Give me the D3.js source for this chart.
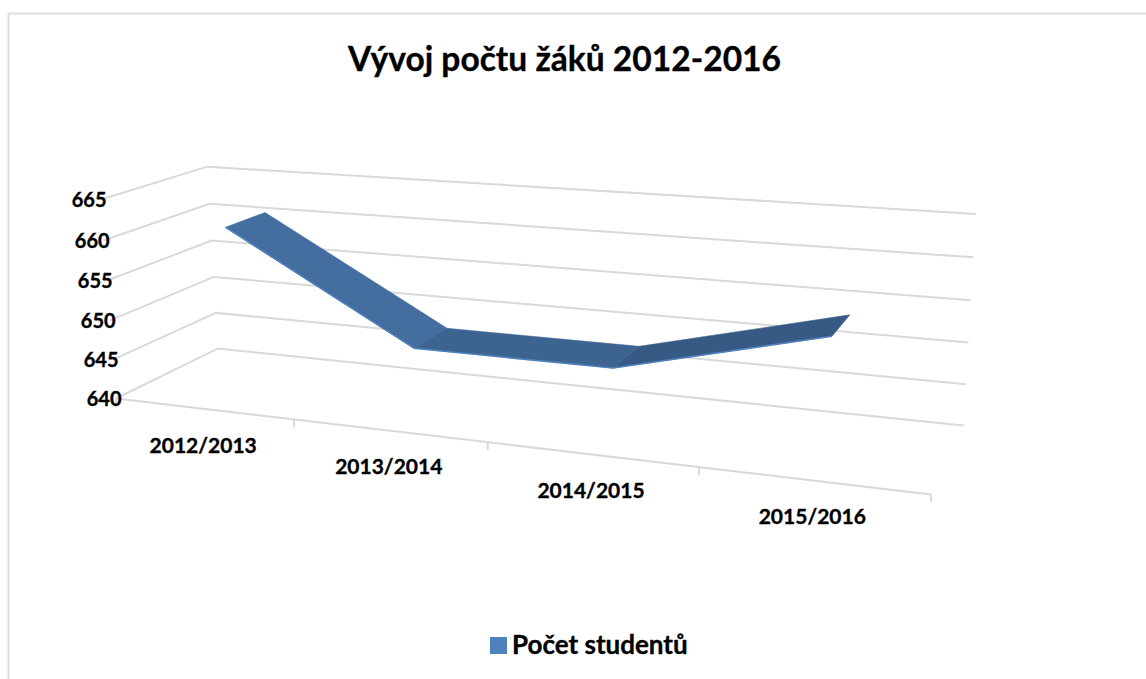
<!DOCTYPE html>
<html><head><meta charset="utf-8">
<script src="https://cdnjs.cloudflare.com/ajax/libs/d3/7.8.5/d3.min.js"></script>
<style>html,body{margin:0;padding:0;background:#fff}svg{display:block}text{font-family:Lato,"Open Sans",sans-serif;font-weight:700;fill:#000;stroke:#000;stroke-width:.35px}</style>
</head><body><svg id="c" width="1146" height="679"></svg>
<script>
const titleText = "Vývoj počtu žáků 2012-2016";
const seriesName = "Počet studentů";
const categories = ["2012/2013","2013/2014","2014/2015","2015/2016"];
const values = [661,648,648,654];
const yTicks = [640,645,650,655,660,665];
const segmentColors = ["#436e9f","#3d6490","#375a85"];

const svg = d3.select("#c");
const xScale = d3.scaleLinear().domain([0,categories.length]).range([0,1]);
const yScale = d3.scaleLinear().domain([640,665]).range([0,1]);
const depthFront = 0.3, depthBack = 0.7;

// projective map of the Excel-style 3D box (X along categories, Y up, Z into the page)
const O=[116,398.5], nX=[664.5,16], nY=[-18,-205], nZ=[123.8,-15.2], W=[-0.1616,-0.03,0.1];
function project(X,Y,Z){
  const w=1+W[0]*X+W[1]*Y+W[2]*Z;
  return [(O[0]+nX[0]*X+nY[0]*Y+nZ[0]*Z)/w,(O[1]+nX[1]*X+nY[1]*Y+nZ[1]*Z)/w];
}
const line=d3.line();

// frame
svg.append("path").attr("d",line([[8.5,679],[8.5,13.5],[1146,13.5]])).attr("fill","none").attr("stroke","#dedede").attr("stroke-width",2);

// gridlines: side wall + back wall
svg.append("g").selectAll("path").data(yTicks).join("path")
  .attr("d",v=>line([project(0,yScale(v),0),project(0,yScale(v),1),project(1,yScale(v),1)]))
  .attr("fill","none").attr("stroke","#d9d9d9").attr("stroke-width",2);

// front floor axis and ticks
svg.append("path").attr("d",line([project(0,0,0),project(1,0,0)])).attr("fill","none").attr("stroke","#d9d9d9").attr("stroke-width",2);
svg.append("g").selectAll("path").data(d3.range(categories.length+1)).join("path")
  .attr("d",i=>{const p=project(xScale(i),0,0);return line([p,[p[0],p[1]+8]]);})
  .attr("fill","none").attr("stroke","#d9d9d9").attr("stroke-width",2);

// ribbon
const pts=values.map((v,i)=>({X:xScale(i+0.5),Y:yScale(v)}));
const segs=d3.pairs(pts);
svg.append("g").attr("transform","translate(1,0)").selectAll("path").data(segs).join("path")
  .attr("d",([a,b])=>line([project(a.X,a.Y,depthFront),project(b.X,b.Y,depthFront),project(b.X,b.Y,depthBack),project(a.X,a.Y,depthBack)])+"Z")
  .attr("fill",(d,i)=>segmentColors[i]).attr("stroke",(d,i)=>segmentColors[i]).attr("stroke-width",0.5);
svg.append("path").attr("transform","translate(1,0)").attr("d",line(pts.map(p=>project(p.X,p.Y,depthFront))))
  .attr("fill","none").attr("stroke","#4f81bd").attr("stroke-width",1.6);

// value labels
svg.append("g").selectAll("text").data(yTicks).join("text")
  .attr("x",v=>project(0,yScale(v),0)[0]+5.5)
  .attr("y",v=>project(0,yScale(v),0)[1]+0.5)
  .attr("dy","0.35em").attr("text-anchor","end").attr("font-size",20).text(d=>d);

// category labels
svg.append("g").selectAll("text").data(categories).join("text")
  .attr("x",(d,i)=>project(xScale(i+0.5),0,0)[0])
  .attr("y",(d,i)=>project(xScale(i+0.5),0,0)[1]+36.5)
  .attr("dy","0.35em").attr("text-anchor","middle").attr("font-size",21).text(d=>d);

// title
svg.append("text").attr("x",564.5).attr("y",71).attr("text-anchor","middle").attr("font-size",35)
  .attr("textLength",433).attr("lengthAdjust","spacingAndGlyphs").text(titleText);

// legend
svg.append("rect").attr("x",490).attr("y",637).attr("width",17).attr("height",17).attr("fill","#4f81bd");
svg.append("text").attr("x",512).attr("y",654).attr("font-size",26).text(seriesName);
</script></body></html>
